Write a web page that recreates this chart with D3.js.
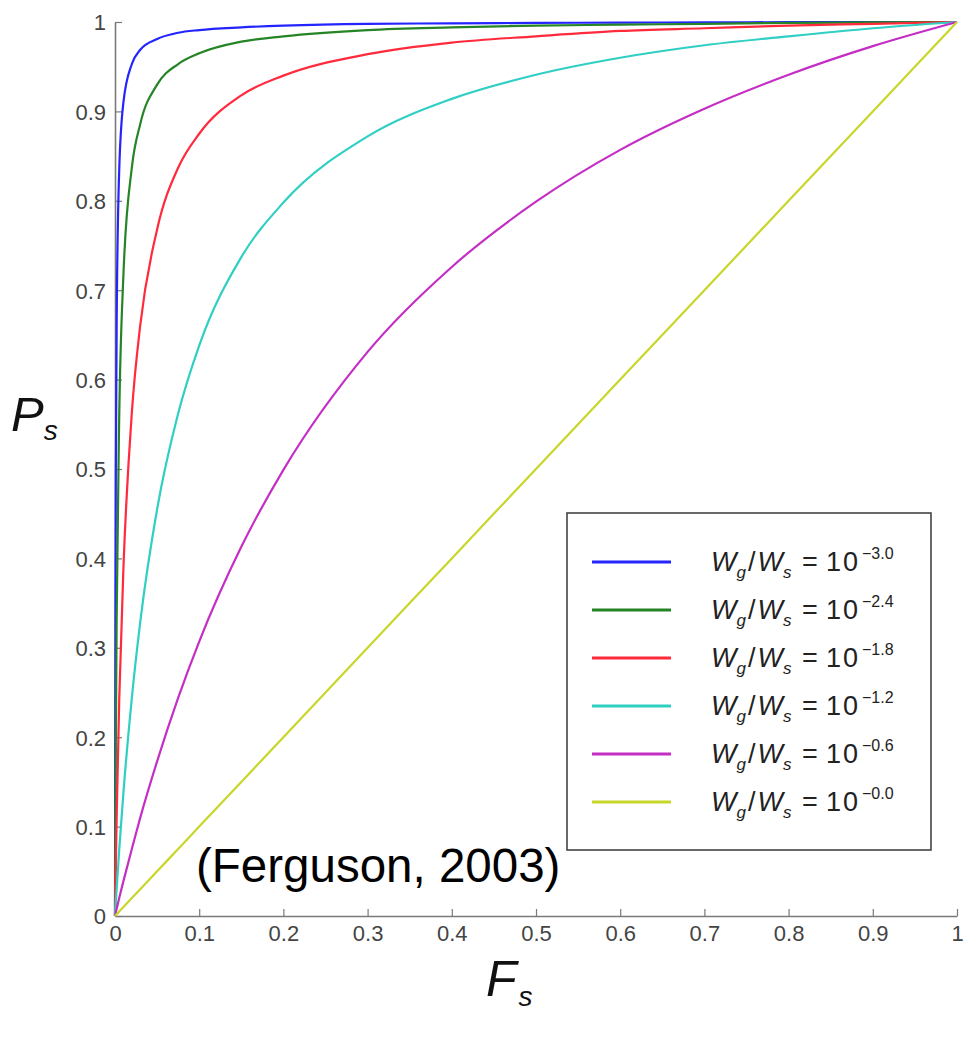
<!DOCTYPE html>
<html>
<head>
<meta charset="utf-8">
<script src="https://cdn.jsdelivr.net/npm/d3@7"></script>
<style>
  body { margin: 0; background: #fff; }
  text { font-family: "Liberation Sans", Arial, sans-serif; }
</style>
</head>
<body>
<script>
// F_s sample points and P_s
let fs = [0, 0.0005, 0.001, 0.002, 0.005, 0.01, 0.02, 0.03, 0.05, 0.075, 0.1, 0.15, 0.2, 0.3, 0.4, 0.5, 0.6, 0.7, 0.8, 0.9, 1];

let psBlue    = [0, 0.333, 0.5, 0.667, 0.834, 0.910, 0.953, 0.969, 0.981, 0.988, 0.991, 0.994, 0.996, 0.998, 0.9985, 0.999, 0.9993, 0.9996, 0.9998, 0.9999, 1];
let psGreen   = [0, 0.112, 0.201, 0.335, 0.558, 0.717, 0.837, 0.886, 0.930, 0.953, 0.965, 0.978, 0.984, 0.991, 0.994, 0.996, 0.997, 0.998, 0.999, 0.9996, 1];
let psRed     = [0, 0.031, 0.059, 0.112, 0.241, 0.389, 0.563, 0.661, 0.768, 0.837, 0.875, 0.918, 0.940, 0.964, 0.977, 0.984, 0.990, 0.993, 0.996, 0.998, 1];
let psCyan    = [0, 0.008, 0.016, 0.031, 0.074, 0.138, 0.244, 0.329, 0.455, 0.562, 0.638, 0.737, 0.798, 0.872, 0.914, 0.941, 0.960, 0.974, 0.984, 0.993, 1];
let psMagenta = [0, 0.002, 0.004, 0.008, 0.020, 0.039, 0.075, 0.110, 0.173, 0.244, 0.307, 0.413, 0.499, 0.631, 0.726, 0.799, 0.857, 0.903, 0.941, 0.973, 1];
let psYellow  = [0, 0.0005, 0.001, 0.002, 0.005, 0.01, 0.02, 0.03, 0.05, 0.075, 0.1, 0.15, 0.2, 0.3, 0.4, 0.5, 0.6, 0.7, 0.8, 0.9, 1];

let exponents = ["\u22123.0", "\u22122.4", "\u22121.8", "\u22121.2", "\u22120.6", "\u22120.0"];
let tickValues = [0, 0.1, 0.2, 0.3, 0.4, 0.5, 0.6, 0.7, 0.8, 0.9, 1];
let colors = ["#2424ff", "#258425", "#ff2a3c", "#30cfc4", "#c42ec4", "#c8d62a"];

let allSeries = [psBlue, psGreen, psRed, psCyan, psMagenta, psYellow];

let svg = d3.select("body").append("svg").attr("width", 968).attr("height", 1041);

let x = d3.scaleLinear().domain([0, 1]).range([115, 957]);
let y = d3.scaleLinear().domain([0, 1]).range([916, 22]);

let fmt = function(d) { return (d === 0 || d === 1) ? String(d) : d.toFixed(1); };

let xAxis = svg.append("g")
  .attr("transform", "translate(0,916)")
  .call(d3.axisBottom(x).tickValues(tickValues).tickFormat(fmt).tickSizeInner(-7).tickSizeOuter(0).tickPadding(9));

let yAxis = svg.append("g")
  .attr("transform", "translate(115,0)")
  .call(d3.axisLeft(y).tickValues(tickValues).tickFormat(fmt).tickSizeInner(-7).tickSizeOuter(0).tickPadding(9));

[xAxis, yAxis].forEach(function(a) {
  a.select(".domain").attr("stroke", "#7a7a7a").attr("stroke-width", 1.6);
  a.selectAll(".tick line").attr("stroke", "#7a7a7a").attr("stroke-width", 1.2);
  a.selectAll(".tick text").attr("fill", "#444").attr("font-size", 22);
});
yAxis.selectAll(".tick text").attr("dy", "0.36em");

let line = d3.line()
  .x(function(d) { return x(d[0]); })
  .y(function(d) { return y(d[1]); })
  .curve(d3.curveMonotoneX);

svg.selectAll("path.curve")
  .data(allSeries)
  .enter().append("path")
    .attr("class", "curve")
    .attr("fill", "none")
    .attr("stroke", function(d, i) { return colors[i]; })
    .attr("stroke-width", 2.2)
    .attr("d", function(d) { return line(fs.map(function(f, j) { return [f, d[j]]; })); });

// axis titles
let pLabel = svg.append("text").attr("x", 11).attr("y", 431).attr("font-style", "italic").attr("font-size", 49).attr("fill", "#111");
pLabel.append("tspan").text("P");
pLabel.append("tspan").attr("font-size", 28).attr("dy", 9).attr("dx", 0).text("s");

let fLabel = svg.append("text").attr("x", 486).attr("y", 996).attr("font-style", "italic").attr("font-size", 50).attr("fill", "#111");
fLabel.append("tspan").text("F");
fLabel.append("tspan").attr("font-size", 28).attr("dy", 10).attr("dx", 2).text("s");

svg.append("text")
  .attr("x", 196).attr("y", 882)
  .attr("font-size", 47.5).attr("fill", "#000")
  .text("(Ferguson, 2003)");

// legend
let legend = svg.append("g");
legend.append("rect")
  .attr("x", 567).attr("y", 513).attr("width", 364).attr("height", 337)
  .attr("fill", "#fff").attr("stroke", "#444").attr("stroke-width", 1.6);

let rows = legend.selectAll("g.row")
  .data(exponents)
  .enter().append("g")
    .attr("class", "row")
    .attr("transform", function(d, i) { return "translate(0," + (562 + i * 48) + ")"; });

rows.append("line")
  .attr("x1", 592).attr("x2", 671)
  .attr("stroke", function(d, i) { return colors[i]; })
  .attr("stroke-width", 3);

let lt = rows.append("text").attr("y", 9).attr("font-size", 27).attr("fill", "#222");
lt.append("tspan").attr("x", 711).attr("font-style", "italic").text("W");
lt.append("tspan").attr("font-style", "italic").attr("font-size", 17).attr("dy", 7).text("g");
lt.append("tspan").attr("dy", -7).attr("dx", 2).text("/");
lt.append("tspan").attr("font-style", "italic").attr("dx", 2).text("W");
lt.append("tspan").attr("font-style", "italic").attr("font-size", 17).attr("dy", 7).text("s");
lt.append("tspan").attr("x", 802).attr("dy", -7).text("=");
lt.append("tspan").attr("x", 826).attr("letter-spacing", 2).text("10");
lt.append("tspan").attr("x", 862).attr("font-size", 16).attr("dy", -12).text(function(d) { return d; });
</script>
</body>
</html>
